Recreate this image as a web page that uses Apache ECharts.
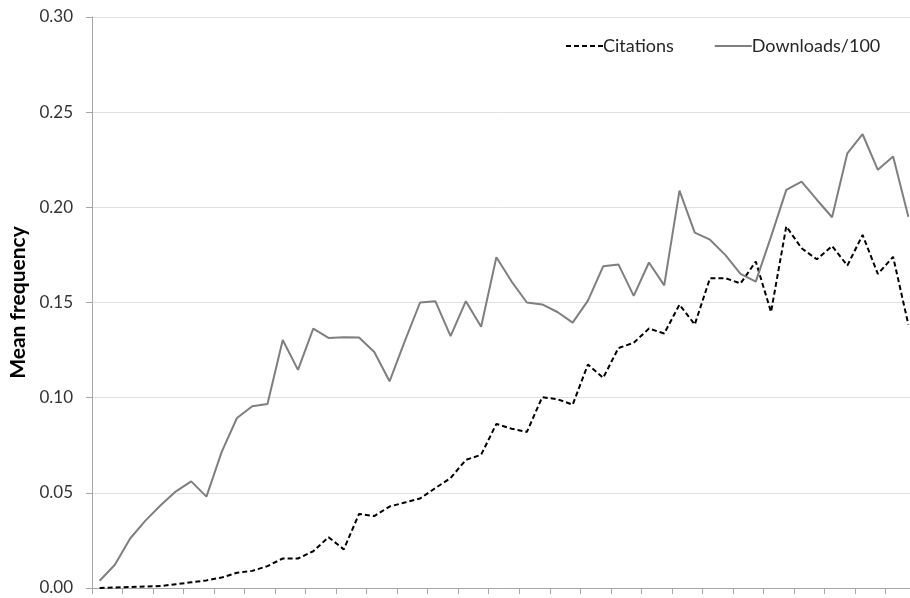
<!DOCTYPE html>
<html>
<head>
<meta charset="utf-8">
<title>Mean frequency</title>
<script src="https://cdn.jsdelivr.net/npm/echarts@6/dist/echarts.min.js"></script>
<style>
  html, body { margin: 0; padding: 0; background: #fff; overflow: hidden; }
  #chart { width: 910px; height: 598px; }
</style>
</head>
<body>
<div id="chart"></div>
<script>
// Periods along the horizontal axis (unlabelled, one tick per period)
const periods = Array.from({ length: 54 }, (_, i) => String(i + 1));

const citations = [
  0.000, 0.0003, 0.0005, 0.0008, 0.001, 0.002, 0.003, 0.004, 0.0055, 0.008,
  0.009, 0.0115, 0.0155, 0.0155, 0.0193, 0.0267, 0.0203, 0.0389, 0.0378, 0.0428,
  0.0449, 0.047, 0.0525, 0.0578, 0.0673, 0.070, 0.0862, 0.0837, 0.082, 0.1002,
  0.0992, 0.0963, 0.1174, 0.1104, 0.1261, 0.1288, 0.1363, 0.1337, 0.1489, 0.1384,
  0.1628, 0.1628, 0.160, 0.1715, 0.145, 0.190, 0.1785, 0.1727, 0.1797, 0.1694,
  0.1855, 0.165, 0.174, 0.1384
];

const downloads = [
  0.0038, 0.0122, 0.026, 0.0354, 0.0435, 0.0508, 0.056, 0.048, 0.0715, 0.0893,
  0.0955, 0.0967, 0.1303, 0.1146, 0.1363, 0.1314, 0.1318, 0.1316, 0.124, 0.1086,
  0.1297, 0.150, 0.1507, 0.1323, 0.1507, 0.1373, 0.1738, 0.161, 0.1500, 0.149,
  0.145, 0.1394, 0.151, 0.169, 0.170, 0.1535, 0.171, 0.159, 0.2088, 0.1867,
  0.183, 0.175, 0.165, 0.161, 0.1846, 0.2092, 0.2135, 0.204, 0.1948, 0.2284,
  0.2384, 0.2197, 0.2267, 0.1951
];

const yTicks = { min: 0, max: 0.30, interval: 0.05 };

const chart = echarts.init(document.getElementById('chart'), null, { renderer: 'canvas' });

const fontFamily = 'Lato, "Open Sans", sans-serif';

chart.setOption({
  animation: false,
  backgroundColor: '#ffffff',
  textStyle: { fontFamily },
  // the plot area runs slightly past the right edge of the canvas
  grid: {
    left: 92, top: 17, width: 824, height: 571,
    containLabel: false,
    outerBoundsMode: 'none'
  },
  legend: {
    left: 560,
    top: 32,
    itemWidth: 37,
    itemHeight: 14,
    itemGap: 40,
    itemStyle: { opacity: 0 },
    textStyle: { fontSize: 18, color: '#262626', fontFamily, padding: [0, 0, 0, -5] },
    data: ['Citations', 'Downloads/100']
  },
  xAxis: {
    type: 'category',
    data: periods,
    boundaryGap: true,
    axisLine: { lineStyle: { color: '#a6a6a6', width: 1 } },
    axisTick: { show: true, length: 6, inside: false, lineStyle: { color: '#a6a6a6' } },
    axisLabel: { show: false },
    splitLine: { show: false }
  },
  yAxis: {
    type: 'value',
    min: yTicks.min,
    max: yTicks.max,
    interval: yTicks.interval,
    name: 'Mean frequency',
    nameLocation: 'middle',
    nameGap: 55,
    nameTextStyle: { fontSize: 21, fontWeight: 'bold', color: '#000', fontFamily },
    axisLine: { show: true, lineStyle: { color: '#a6a6a6', width: 1 } },
    axisTick: { show: true, length: 6, lineStyle: { color: '#a6a6a6' } },
    axisLabel: {
      margin: 19,
      fontSize: 17,
      color: '#333333',
      fontFamily,
      formatter: v => v.toFixed(2)
    },
    splitLine: { show: true, lineStyle: { color: '#e0e0e0', width: 1 } }
  },
  series: [
    {
      name: 'Citations',
      type: 'line',
      data: citations,
      symbol: 'none',
      lineStyle: { color: '#000000', width: 2, type: [5, 3] },
      itemStyle: { color: '#000000' }
    },
    {
      name: 'Downloads/100',
      type: 'line',
      data: downloads,
      symbol: 'none',
      lineStyle: { color: '#7f7f7f', width: 2 },
      itemStyle: { color: '#7f7f7f' }
    }
  ]
});
</script>
</body>
</html>
